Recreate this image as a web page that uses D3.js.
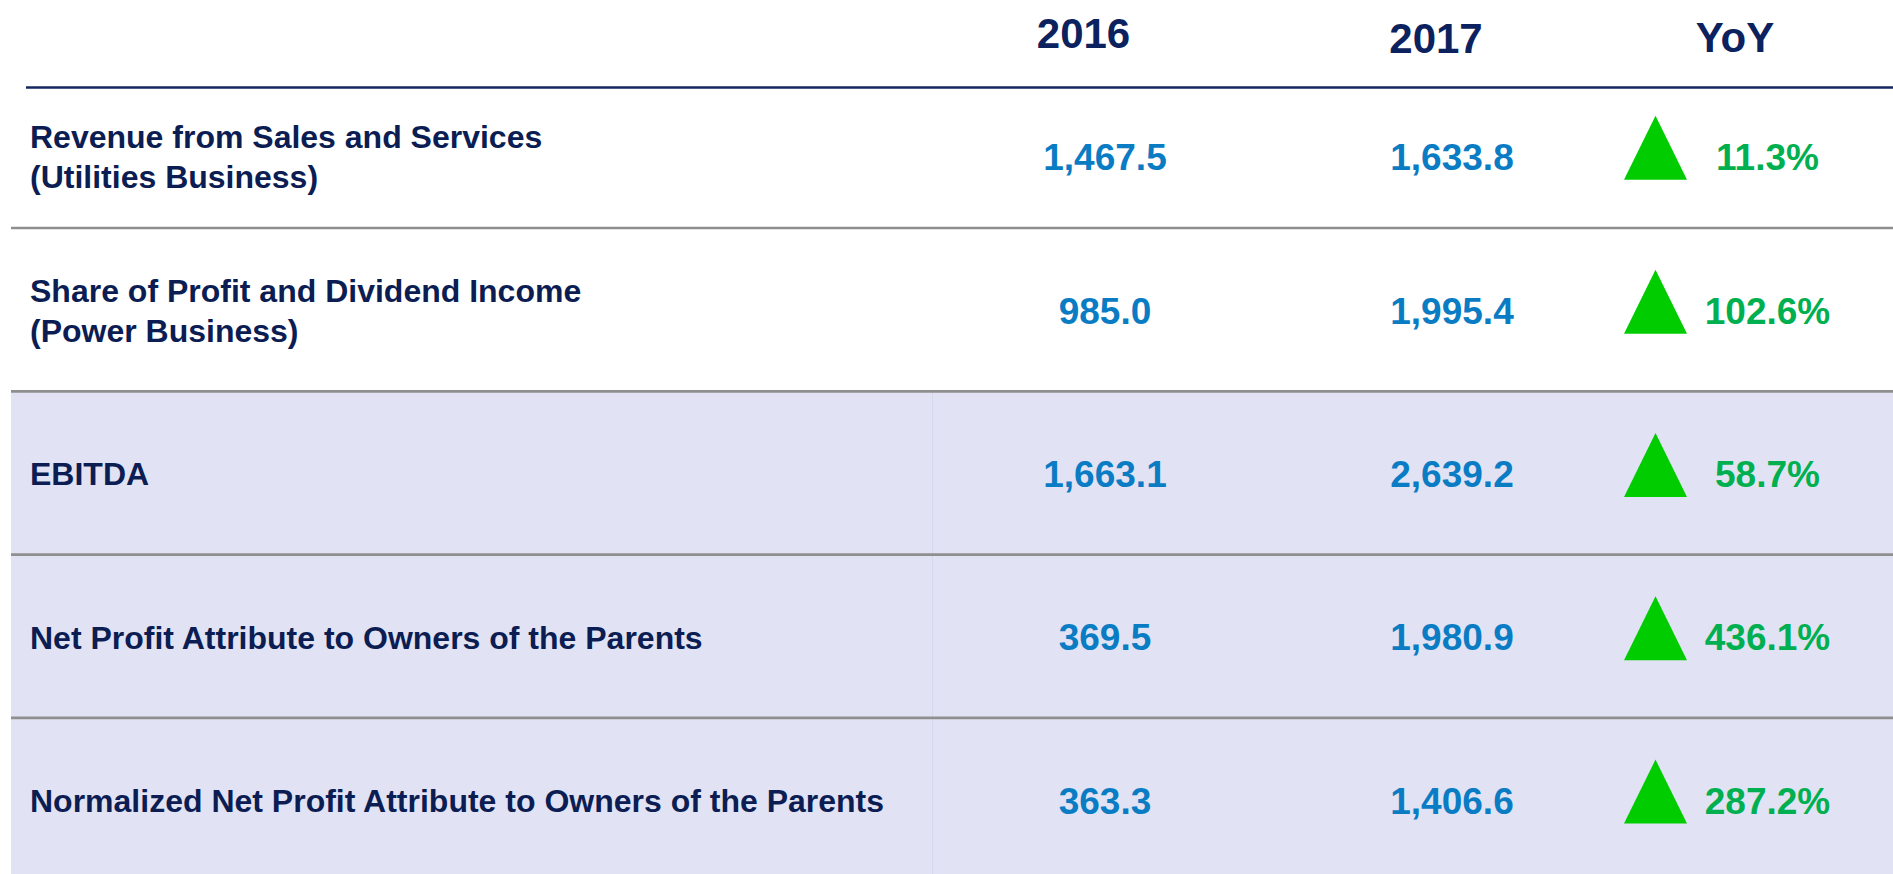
<!DOCTYPE html>
<html>
<head>
<meta charset="utf-8">
<script src="https://cdn.jsdelivr.net/npm/d3@7"></script>
<style>
  html, body { margin: 0; padding: 0; background: #fff; overflow: hidden; }
  svg { display: block; font-family: "Liberation Sans", Arial, sans-serif; font-weight: bold; }
</style>
</head>
<body>
<div id="chart"></div>
<script>
// table contents
const columnHeaders = ["2016", "2017", "YoY"];
const metricLabels = [
  ["Revenue from Sales and Services", "(Utilities Business)"],
  ["Share of Profit and Dividend Income", "(Power Business)"],
  ["EBITDA"],
  ["Net Profit Attribute to Owners of the Parents"],
  ["Normalized Net Profit Attribute to Owners of the Parents"]
];
const values2016 = [1467.5, 985.0, 1663.1, 369.5, 363.3];
const values2017 = [1633.8, 1995.4, 2639.2, 1980.9, 1406.6];
const yoyPct = [11.3, 102.6, 58.7, 436.1, 287.2];

const W = 1893, H = 874;
const colors = {
  navy: "#0b1d52",
  blue: "#0a7cc4",
  green: "#00b050",
  arrow: "#00cc00",
  shade: "#e1e3f5",
  rule: "#8f8f8f"
};

// layout: first row is shorter, the rest share one height
const headerLineY = 87.5;
const firstRowBottom = 228;
const rowH = 163.3;
const rowTops = metricLabels.map((d, i) => i === 0 ? headerLineY : firstRowBottom + (i - 1) * rowH);
const rowBottoms = metricLabels.map((d, i) => i === 0 ? firstRowBottom : firstRowBottom + i * rowH);
const rowCenter = i => (rowTops[i] + rowBottoms[i]) / 2 + (i === 0 ? -1 : 1);

const fmtVal = d3.format(",.1f");
const fmtPct = d => d3.format(".1f")(d) + "%";

const svg = d3.select("#chart").append("svg")
  .attr("width", W).attr("height", H)
  .attr("viewBox", [0, 0, W, H]);

// shaded band for the lower three rows
const shadeTop = rowTops[2];
svg.append("rect")
  .attr("x", 11).attr("y", shadeTop)
  .attr("width", W - 11).attr("height", H - shadeTop)
  .attr("fill", colors.shade);
svg.append("line")
  .attr("x1", 932.5).attr("x2", 932.5)
  .attr("y1", shadeTop).attr("y2", H)
  .attr("stroke", "#d6d8f0").attr("stroke-width", 1);

// header rule
svg.append("line")
  .attr("x1", 26).attr("x2", W)
  .attr("y1", headerLineY).attr("y2", headerLineY)
  .attr("stroke", "#14275e").attr("stroke-width", 2.6);

// row separators
svg.selectAll(".sep")
  .data(rowBottoms.slice(0, -1))
  .join("line")
  .attr("class", "sep")
  .attr("x1", 11).attr("x2", W)
  .attr("y1", d => d).attr("y2", d => d)
  .attr("stroke", colors.rule).attr("stroke-width", 2.7);

// column headers
const headerX = [1083.5, 1436, 1735];
const headerBase = [48, 53, 52];
svg.selectAll(".colhead")
  .data(columnHeaders)
  .join("text")
  .attr("class", "colhead")
  .attr("x", (d, i) => headerX[i])
  .attr("y", (d, i) => headerBase[i])
  .attr("text-anchor", "middle")
  .attr("font-size", 42)
  .attr("fill", "#0c225e")
  .text(d => d);

// row labels
const labelSize = 32, labelGap = 40;
const rows = svg.selectAll(".row")
  .data(metricLabels)
  .join("g")
  .attr("class", "row");

rows.each(function(lines, i) {
  const c = rowCenter(i);
  const g = d3.select(this);
  lines.forEach((t, j) => {
    const off = (j - (lines.length - 1) / 2) * labelGap;
    g.append("text")
      .attr("x", 30)
      .attr("y", c + off + labelSize * 0.358)
      .attr("font-size", labelSize)
      .attr("fill", colors.navy)
      .text(t);
  });
});

// numbers
const valSize = 37;
const valBase = i => rowCenter(i) + valSize * 0.358;

svg.selectAll(".v2016")
  .data(values2016)
  .join("text")
  .attr("class", "v2016")
  .attr("x", 1105).attr("y", (d, i) => valBase(i))
  .attr("text-anchor", "middle")
  .attr("font-size", valSize)
  .attr("fill", colors.blue)
  .text(fmtVal);

svg.selectAll(".v2017")
  .data(values2017)
  .join("text")
  .attr("class", "v2017")
  .attr("x", 1452).attr("y", (d, i) => valBase(i))
  .attr("text-anchor", "middle")
  .attr("font-size", valSize)
  .attr("fill", colors.blue)
  .text(fmtVal);

// up arrows
const triW = 63, triH = 64, triX = 1655.5;
svg.selectAll(".arrow")
  .data(yoyPct)
  .join("path")
  .attr("class", "arrow")
  .attr("fill", colors.arrow)
  .attr("d", (d, i) => {
    const cy = rowCenter(i) - 9;
    return d > 0
      ? `M${triX},${cy - triH / 2}L${triX + triW / 2},${cy + triH / 2}L${triX - triW / 2},${cy + triH / 2}Z`
      : `M${triX},${cy + triH / 2}L${triX + triW / 2},${cy - triH / 2}L${triX - triW / 2},${cy - triH / 2}Z`;
  });

svg.selectAll(".pct")
  .data(yoyPct)
  .join("text")
  .attr("class", "pct")
  .attr("x", 1767.5).attr("y", (d, i) => valBase(i))
  .attr("text-anchor", "middle")
  .attr("font-size", valSize)
  .attr("fill", colors.green)
  .text(fmtPct);
</script>
</body>
</html>
